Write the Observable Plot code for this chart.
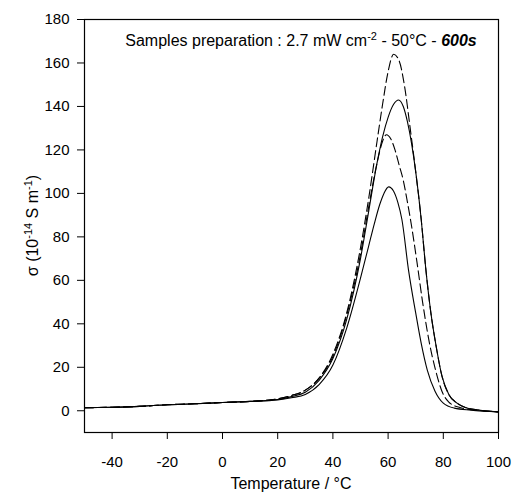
<!DOCTYPE html>
<html>
<head>
<meta charset="utf-8">
<script src="https://cdn.jsdelivr.net/npm/d3@7"></script>
<script src="https://cdn.jsdelivr.net/npm/@observablehq/plot@0.6"></script>
<style>
  html, body { margin: 0; padding: 0; background: #fff; }
  #chart { width: 512px; height: 495px; }
</style>
</head>
<body>
<div id="chart"></div>
<script>
// Series: temperature (°C) and conductivity sigma (10^-14 S m^-1)
const tempA  = [-50,-40,-30,-20,-10,0,10,20,25,30,35,40,45,50,53,56,58,60,62,64,66,68,70,72,73.6,75.5,77.5,79.5,82,85,88,92,100];
const sigmaA = [1.4,1.6,2.0,2.8,3.2,3.8,4.3,5.5,7,9.5,15,26,45,75,98,124,141,156,164,161,149,130,110,88,66,45,29,16,7.5,3.5,1.5,0.5,-0.5];

const tempB  = [-50,-40,-30,-20,-10,0,10,20,25,30,35,40,45,50,53,56,58,60,62,63.8,65.5,67,68.5,70,72,73.6,75.5,77.5,79.5,82,85,88,92,100];
const sigmaB = [1.4,1.6,2.0,2.8,3.2,3.8,4.3,5.2,6.5,8.5,14,24,42,70,92,114,126,135,141,143,140,133,123,110,88,66,45,29,16,7.5,3.5,1.5,0.5,-0.5];

const tempC  = [-50,-40,-30,-20,-10,0,10,20,25,30,35,40,45,50,53,56,58,59.4,61,62.5,64,65.5,67,68.5,70.5,72.5,75,77.2,79.5,82,86,92,100];
const sigmaC = [1.4,1.6,2.0,2.8,3.2,3.8,4.3,5.5,7,9.5,15,25,44,72,94,114,124,127,125,120,113,106,96,85,68,50,31,18.7,9,4,1.5,0.3,-0.5];

const tempD  = [-50,-40,-30,-20,-10,0,10,20,25,30,35,40,45,50,53,55,57,58.5,60.2,62,63.5,65,67.4,70,72,74.2,77,80,84,90,100];
const sigmaD = [1.4,1.6,2.0,2.8,3.2,3.8,4.3,5.0,6,7.5,12,21,38,61,76,86,95,100,103,101,96,88,64.7,45,31,18.7,9,3.5,1.2,0.3,-0.5];

const seriesStyle = ["dashed", "solid", "dashed", "solid"];
const xTicks = [-40,-20,0,20,40,60,80,100];
const yTicks = [0,20,40,60,80,100,120,140,160,180];

const toRows = (t, s) => t.map((d, i) => ({t: d, s: s[i]}));
const rows = [toRows(tempA, sigmaA), toRows(tempB, sigmaB), toRows(tempC, sigmaC), toRows(tempD, sigmaD)];

const font = "'Liberation Sans', Arial, Helvetica, sans-serif";

const chart = Plot.plot({
  width: 512,
  height: 495,
  marginLeft: 84,
  marginRight: 14,
  marginTop: 19,
  marginBottom: 63,
  style: {fontFamily: font, fontSize: "15px", color: "black", background: "white"},
  x: {domain: [-50, 100]},
  y: {domain: [-10, 180]},
  marks: [
    ...rows.map((r, i) => Plot.line(r, {
      x: "t", y: "s", curve: "monotone-x",
      stroke: "black", strokeWidth: 1.1,
      strokeDasharray: seriesStyle[i] === "dashed" ? "9,4" : null
    })),
    Plot.frame({stroke: "black", strokeWidth: 1.2}),
    Plot.axisX({ticks: xTicks, tickSize: 7, tickPadding: 17, fontSize: 15, label: null, tickFormat: d => String(d)}),
    Plot.axisY({ticks: yTicks, tickSize: 7, tickPadding: 8, fontSize: 15, label: null, tickFormat: d => String(d)})
  ]
});

document.getElementById("chart").appendChild(chart);

const svg = d3.select(chart);
const xs = chart.scale("x"), ys = chart.scale("y");

// Title inside the plot
const title = svg.append("text")
  .attr("x", 301).attr("y", 46)
  .attr("text-anchor", "middle")
  .attr("font-family", font).attr("font-size", 16).attr("fill", "black");
title.append("tspan").text("Samples preparation : 2.7 mW cm");
title.append("tspan").attr("dy", -6).attr("font-size", 11).text("-2");
title.append("tspan").attr("dy", 6).text(" - 50°C - ");
title.append("tspan").attr("font-weight", "bold").attr("font-style", "italic").text("600s");

// X axis title
svg.append("text")
  .attr("x", (xs.range[0] + xs.range[1]) / 2).attr("y", 489)
  .attr("text-anchor", "middle")
  .attr("font-family", font).attr("font-size", 16).attr("fill", "black")
  .text("Temperature / °C");

// Y axis title (rotated)
const yt = svg.append("text")
  .attr("transform", `translate(38,${(ys.range[0] + ys.range[1]) / 2}) rotate(-90)`)
  .attr("text-anchor", "middle")
  .attr("font-family", font).attr("font-size", 16).attr("fill", "black");
yt.append("tspan").text("σ (10");
yt.append("tspan").attr("dy", -6).attr("font-size", 11).text("-14");
yt.append("tspan").attr("dy", 6).text(" S m");
yt.append("tspan").attr("dy", -6).attr("font-size", 11).text("-1");
yt.append("tspan").attr("dy", 6).text(")");
</script>
</body>
</html>
